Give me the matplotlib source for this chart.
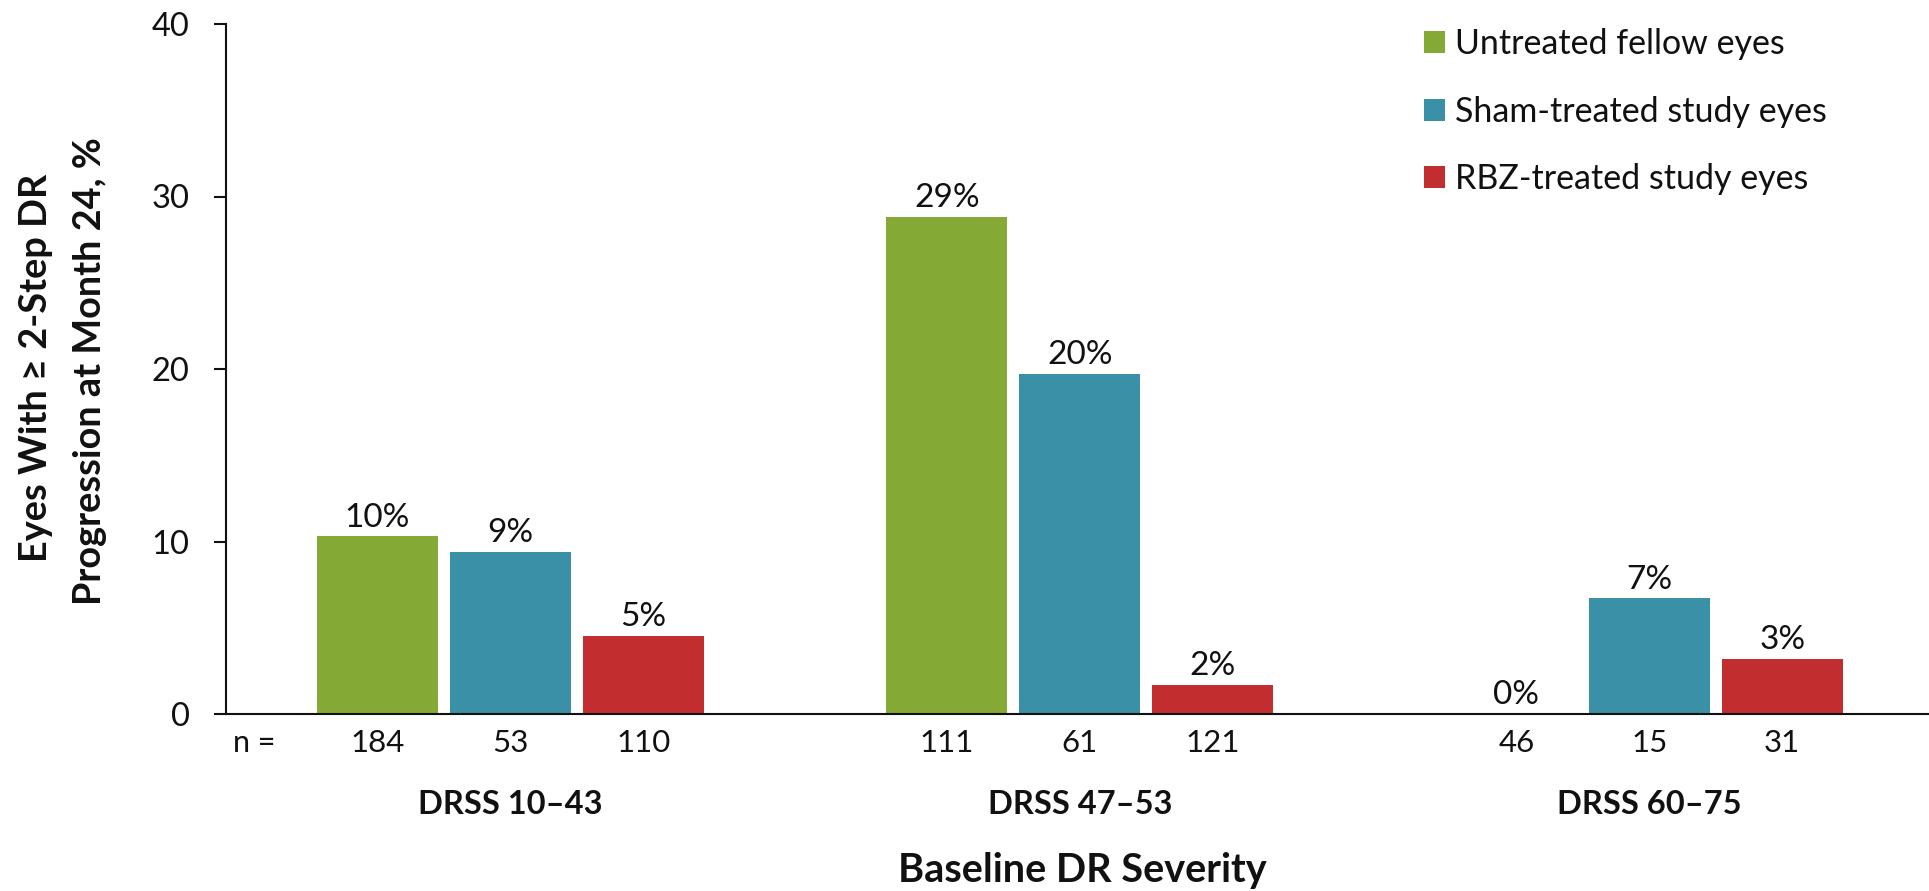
import matplotlib
matplotlib.use("Agg")
import matplotlib.pyplot as plt
from matplotlib.patches import Patch
import numpy as np

# ---- data -------------------------------------------------------------
severity_groups = ["DRSS 10–43", "DRSS 47–53", "DRSS 60–75"]
series_names = ["Untreated fellow eyes", "Sham-treated study eyes", "RBZ-treated study eyes"]
untreated_pct = [10.3, 28.8, 0.0]
sham_pct = [9.4, 19.7, 6.7]
rbz_pct = [4.55, 1.7, 3.2]
untreated_n = [184, 111, 46]
sham_n = [53, 61, 15]
rbz_n = [110, 121, 31]
y_ticks = [0, 10, 20, 30, 40]

# ---- style ------------------------------------------------------------
plt.rcParams["font.family"] = ["Lato", "DejaVu Sans"]
colors = ["#84AA35", "#3A90A6", "#C22D30"]
ink = "#111111"

W, H, DPI = 1929, 891, 100
fig = plt.figure(figsize=(W / DPI, H / DPI), dpi=DPI)

# plot area in pixel units
left_px, right_px, top_px, bottom_px = 225.7, 1934.0, 24.0, 714.0
ax = fig.add_axes([left_px / W, 1 - bottom_px / H,
                   (right_px - left_px) / W, (bottom_px - top_px) / H])

x = np.arange(len(severity_groups))
bar_w = 0.2125
step = 0.2335
series_vals = [untreated_pct, sham_pct, rbz_pct]
series_n = [untreated_n, sham_n, rbz_n]

for i, (vals, ns) in enumerate(zip(series_vals, series_n)):
    xs = x + (i - 1) * step
    ax.bar(xs, vals, bar_w, color=colors[i], label=series_names[i], zorder=2)
    for xi, v, n in zip(xs, vals, ns):
        ax.annotate(f"{v:.0f}%", (xi, v), xytext=(0, 7), textcoords="offset points",
                    ha="center", va="baseline", fontsize=24, color=ink,
                    annotation_clip=False)
        ax.annotate(str(n), (xi, 0), xytext=(0, -27.1), textcoords="offset points",
                    ha="center", va="baseline", fontsize=22.5, color=ink,
                    annotation_clip=False)

# "n =" row header
ax.annotate("n =", (0, 0), xycoords="axes fraction", xytext=(5.2, -27.1),
            textcoords="offset points", ha="left", va="baseline",
            fontsize=22, color=ink, annotation_clip=False)

# category labels under each group
for xi, g in zip(x, severity_groups):
    ax.annotate(g, (xi, 0), xytext=(0, -72), textcoords="offset points",
                ha="center", va="baseline", fontsize=23.5, fontweight="bold",
                color=ink, annotation_clip=False)

ax.set_xlim(-0.5, 2.5)
ax.set_ylim(0, 40)
ax.set_yticks(y_ticks)
ax.set_xticks([])

for side in ("top", "right"):
    ax.spines[side].set_visible(False)
for side in ("left", "bottom"):
    ax.spines[side].set_linewidth(1.5)
    ax.spines[side].set_color(ink)
ax.tick_params(axis="y", direction="out", length=9, width=1.5, color=ink,
               pad=17, labelsize=23.5, labelcolor=ink)

# axis titles
fig.text(47 / W, 1 - 368 / H, "Eyes With ≥ 2-Step DR", rotation=90,
         rotation_mode="anchor", ha="center", va="baseline",
         fontsize=27.3, fontweight="bold", color=ink)
fig.text(101 / W, 1 - 371 / H, "Progression at Month 24, %", rotation=90,
         rotation_mode="anchor", ha="center", va="baseline",
         fontsize=27.3, fontweight="bold", color=ink)
fig.text(1082 / W, 1 - 882 / H, "Baseline DR Severity", ha="center",
         va="baseline", fontsize=28.5, fontweight="bold", color=ink)

# legend
handles = [Patch(facecolor=c, edgecolor="none", label=s)
           for c, s in zip(colors, series_names)]
fs_leg = 24.5
fs_px = fs_leg * DPI / 72
ax.legend(handles=handles, loc="upper left",
          bbox_to_anchor=(1424 / W, 1 - 28 / H), bbox_transform=fig.transFigure,
          frameon=False, borderpad=0, borderaxespad=0,
          handlelength=21 / fs_px, handleheight=21 / fs_px,
          handletextpad=10 / fs_px, labelspacing=1.05, fontsize=fs_leg,
          labelcolor=ink)

fig.savefig("out.png", dpi=DPI)
